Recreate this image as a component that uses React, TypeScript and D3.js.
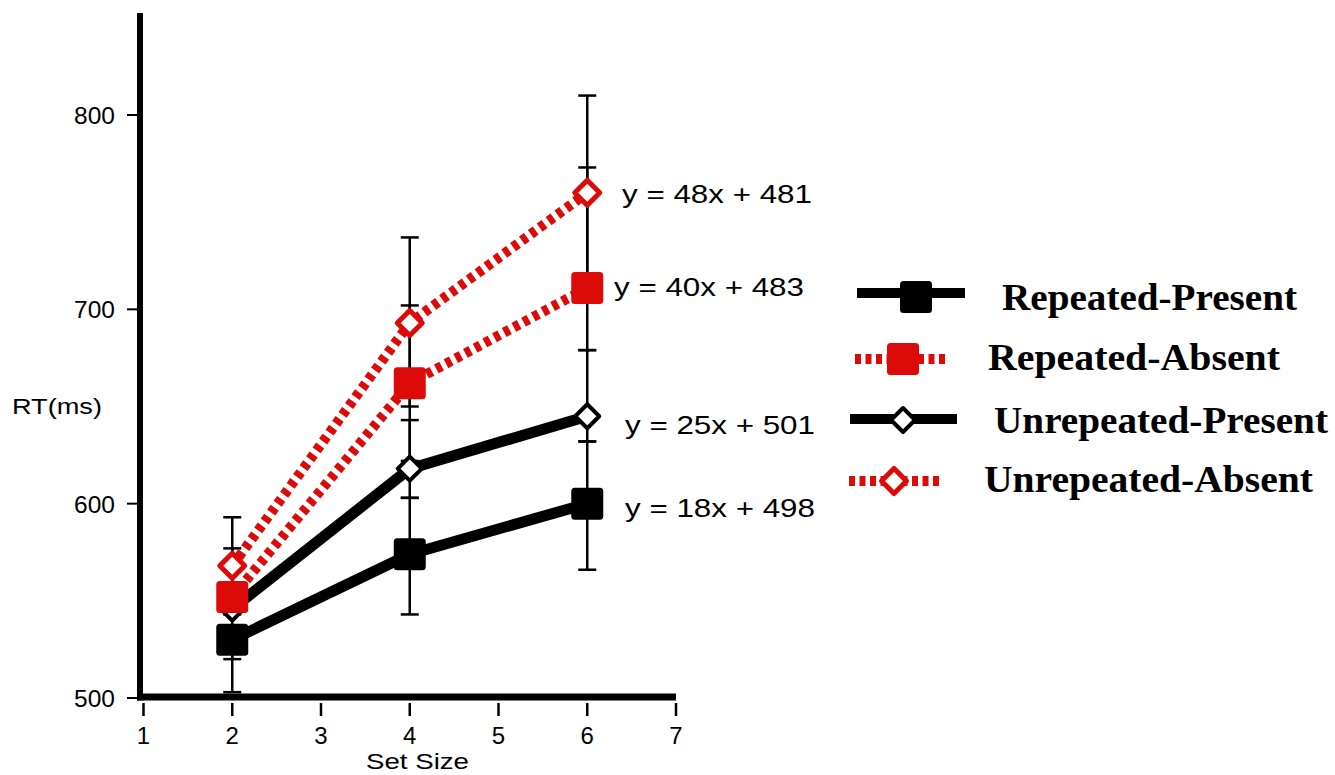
import React from "react";
import * as d3 from "d3";

// ---- data ----
const setSizes = [2, 4, 6];
const seriesNames = ["Repeated-Present", "Repeated-Absent", "Unrepeated-Present", "Unrepeated-Absent"];
const repeatedPresent = [530, 574, 600];
const repeatedAbsent = [552, 662, 711];
const unrepeatedPresent = [546, 618, 645];
const unrepeatedAbsent = [568, 693, 760];
// error bar extents (upper / lower)
const rpErrUp = [0, 29, 32];
const rpErrDown = [27, 31, 34];
const raErrUp = [25, 40, 62];
const raErrDown = [0, 40, 32];
const upErrUp = [0, 25, 34];
const upErrDown = [26, 15, 13];
const uaErrUp = [25, 44, 50];
const uaErrDown = [25, 43, 50];
const equations = ["y = 18x + 498", "y = 40x + 483", "y = 25x + 501", "y = 48x + 481"];
const xTicks = [1, 2, 3, 4, 5, 6, 7];
const yTicks = [500, 600, 700, 800];
const xLabel = "Set Size";
const yLabel = "RT(ms)";

const RED = "#dd0a0a";

const x = d3.scaleLinear().domain([1, 7]).range([143.5, 676]);
const y = d3.scaleLinear().domain([500, 800]).range([698, 115]);

type Series = {
  name: string;
  values: number[];
  up: number[];
  down: number[];
  color: string;
  dashed: boolean;
  marker: "square" | "diamond";
};

const series: Series[] = [
  { name: seriesNames[0], values: repeatedPresent, up: rpErrUp, down: rpErrDown, color: "#000", dashed: false, marker: "square" },
  { name: seriesNames[1], values: repeatedAbsent, up: raErrUp, down: raErrDown, color: RED, dashed: true, marker: "square" },
  { name: seriesNames[2], values: unrepeatedPresent, up: upErrUp, down: upErrDown, color: "#000", dashed: false, marker: "diamond" },
  { name: seriesNames[3], values: unrepeatedAbsent, up: uaErrUp, down: uaErrDown, color: RED, dashed: true, marker: "diamond" },
];

// layout for equation labels (x start, baseline)
const eqLayout = [
  { x: 625, y: 517 },
  { x: 614, y: 296 },
  { x: 625, y: 434 },
  { x: 622, y: 203 },
];

// legend layout
const legendLayout = [
  { x1: 857, x2: 965, ly: 293, mx: 916, my: 297, tx: 1002, ty: 310, tw: 295 },
  { x1: 855, x2: 946, ly: 359, mx: 903, my: 359, tx: 988, ty: 370, tw: 292 },
  { x1: 850, x2: 957, ly: 419, mx: 903, my: 420, tx: 994, ty: 433, tw: 334 },
  { x1: 849, x2: 941, ly: 481, mx: 894, my: 481, tx: 984, ty: 492, tw: 329 },
];

function Marker({ s, cx, cy }: { s: Series; cx: number; cy: number }) {
  if (s.marker === "square") {
    return <rect x={cx - 16} y={cy - 16} width={32} height={32} rx={3.5} fill={s.color} />;
  }
  const r = s.dashed ? 12.5 : 12;
  const d = d3.line()([[cx, cy - r], [cx + r, cy], [cx, cy + r], [cx - r, cy]]) + "Z";
  return <path d={d} fill="#fff" stroke={s.color} strokeWidth={s.dashed ? 5 : 4} strokeLinejoin="round" />;
}

export default function App() {
  const line = d3
    .line<number>()
    .x((_, i) => x(setSizes[i]))
    .y((v) => y(v));

  const markerOrder = [2, 0, 3, 1];

  return (
    <svg width={1335} height={775} style={{ position: "absolute", left: 0, top: 0, background: "#fff" }}>
      {/* error bars */}
      {series.map((s, si) => (
        <g key={"e" + si}>
          {s.values.map((v, i) => {
            const cx = x(setSizes[i]);
            const top = y(v + s.up[i]);
            const bot = y(v - s.down[i]);
            return (
              <g key={i} stroke="#000" strokeWidth={2.5}>
                <line x1={cx} x2={cx} y1={top} y2={bot} />
                {s.up[i] > 0 && <line x1={cx - 9} x2={cx + 9} y1={top} y2={top} />}
                {s.down[i] > 0 && <line x1={cx - 9} x2={cx + 9} y1={bot} y2={bot} />}
              </g>
            );
          })}
        </g>
      ))}

      {/* axes */}
      <g>
        <line x1={140} x2={140} y1={13} y2={700.5} stroke="#000" strokeWidth={6} />
        <line x1={137} x2={676} y1={697} y2={697} stroke="#000" strokeWidth={7} />
        {yTicks.map((t) => (
          <g key={t}>
            <line x1={127} x2={137} y1={y(t)} y2={y(t)} stroke="#000" strokeWidth={2} />
            <text x={115} y={y(t) + 9} textAnchor="end" fontFamily="Liberation Sans, Arial, sans-serif" fontSize={24.5} fill="#000">
              {t}
            </text>
          </g>
        ))}
        {xTicks.map((t) => (
          <g key={t}>
            <line x1={x(t)} x2={x(t)} y1={703} y2={716} stroke="#000" strokeWidth={2.5} />
            <text x={x(t)} y={744} textAnchor="middle" fontFamily="Liberation Sans, Arial, sans-serif" fontSize={24} fill="#000">
              {t}
            </text>
          </g>
        ))}
        <text x={12} y={414} fontFamily="Liberation Sans, Arial, sans-serif" fontSize={22.5} textLength={90} lengthAdjust="spacingAndGlyphs" fill="#000">
          {yLabel}
        </text>
        <text x={366} y={769} fontFamily="Liberation Sans, Arial, sans-serif" fontSize={22.5} textLength={103} lengthAdjust="spacingAndGlyphs" fill="#000">
          {xLabel}
        </text>
      </g>

      {/* lines */}
      {series.map((s, si) => (
        <path
          key={"l" + si}
          d={line(s.values) || ""}
          fill="none"
          stroke={s.color}
          strokeWidth={s.dashed ? 10 : 11}
          strokeDasharray={s.dashed ? "6,5" : undefined}
          strokeLinejoin="round"
        />
      ))}

      {/* markers */}
      {markerOrder.map((si) => {
        const s = series[si];
        return (
          <g key={"m" + si}>
            {s.values.map((v, i) => (
              <Marker key={i} s={s} cx={x(setSizes[i])} cy={y(v)} />
            ))}
          </g>
        );
      })}

      {/* equations */}
      {equations.map((eq, i) => (
        <text
          key={"eq" + i}
          x={eqLayout[i].x}
          y={eqLayout[i].y}
          fontFamily="Liberation Sans, Arial, sans-serif"
          fontSize={26.5}
          textLength={190}
          lengthAdjust="spacingAndGlyphs"
          fill="#000"
        >
          {eq}
        </text>
      ))}

      {/* legend */}
      {series.map((s, i) => {
        const L = legendLayout[i];
        return (
          <g key={"lg" + i}>
            <line
              x1={L.x1}
              x2={L.x2}
              y1={L.ly}
              y2={L.ly}
              stroke={s.color}
              strokeWidth={10}
              strokeDasharray={s.dashed ? "6,4.5" : undefined}
            />
            <Marker s={s} cx={L.mx} cy={L.my} />
            <text
              x={L.tx}
              y={L.ty}
              fontFamily="Liberation Serif, Times New Roman, serif"
              fontWeight="bold"
              fontSize={37}
              textLength={L.tw}
              lengthAdjust="spacingAndGlyphs"
              fill="#000"
            >
              {s.name}
            </text>
          </g>
        );
      })}
    </svg>
  );
}
